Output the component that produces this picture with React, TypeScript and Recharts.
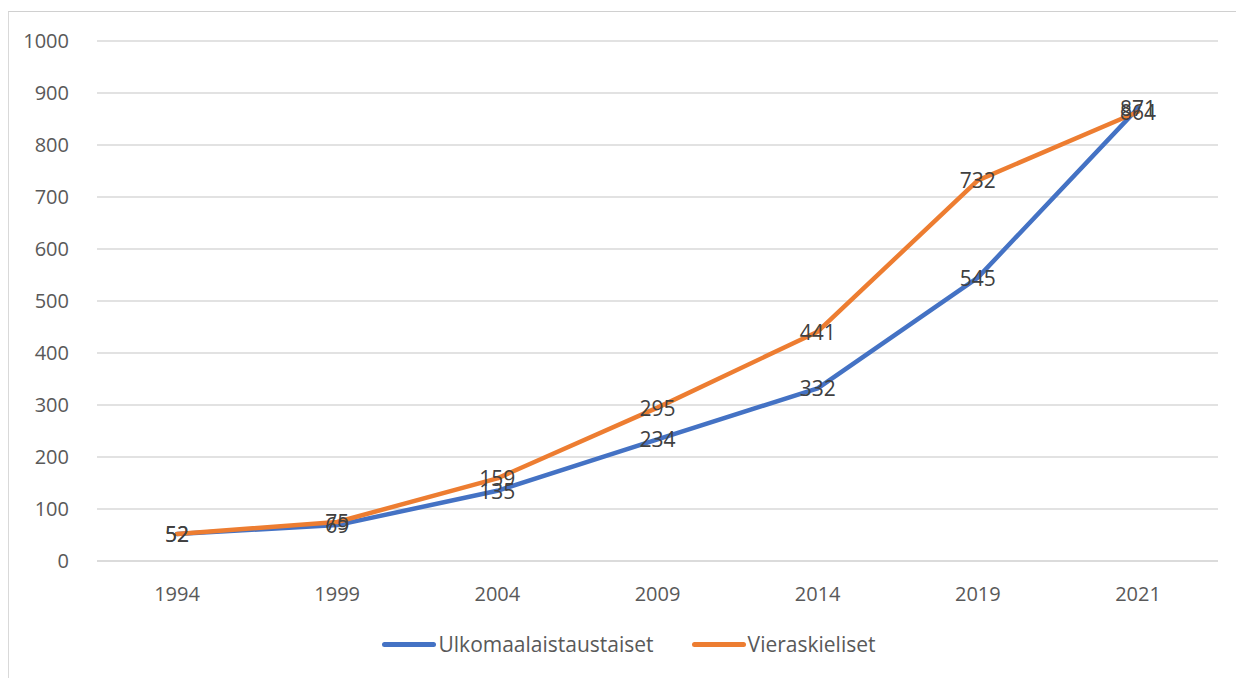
import { LineChart, Line, XAxis, YAxis, CartesianGrid, LabelList, Legend } from 'recharts';

const years = ['1994', '1999', '2004', '2009', '2014', '2019', '2021'];
const ulkomaalaistaustaiset = [52, 69, 135, 234, 332, 545, 871];
const vieraskieliset = [52, 75, 159, 295, 441, 732, 864];
const yTicks = [0, 100, 200, 300, 400, 500, 600, 700, 800, 900, 1000];

const series = [
  { key: 'ulko', name: 'Ulkomaalaistaustaiset', color: '#4472C4' },
  { key: 'viera', name: 'Vieraskieliset', color: '#ED7D31' }
];

const data = years.map((year, i) => ({
  year,
  ulko: ulkomaalaistaustaiset[i],
  viera: vieraskieliset[i]
}));

const FONT = '"Open Sans", sans-serif';

const PointLabel = (props: any) => {
  const { x, y, value } = props;
  return (
    <text
      x={x}
      y={y}
      textAnchor="middle"
      dominantBaseline="central"
      fill="#404040"
      fontSize={21}
      fontFamily={FONT}
    >
      {value}
    </text>
  );
};

const LegendContent = () => (
  <div style={{ display: 'flex', justifyContent: 'center', gap: 38, fontFamily: FONT, fontSize: 21, color: '#595959' }}>
    {series.map((s) => (
      <div key={s.key} style={{ display: 'flex', alignItems: 'center' }}>
        <div style={{ width: 54, height: 5, borderRadius: 3, backgroundColor: s.color, marginRight: 2 }} />
        <span>{s.name}</span>
      </div>
    ))}
  </div>
);

export default function App() {
  return (
    <div style={{ position: 'relative', width: 1236, height: 670 }}>
      <div
        style={{
          position: 'absolute',
          left: -1,
          top: 3,
          width: 1250,
          height: 680,
          borderTop: '1px solid #d0d0d0',
          borderLeft: '2px solid #d9d9d9',
          background: '#fff'
        }}
      >
        <LineChart
          width={1240}
          height={667}
          data={data}
          margin={{ top: 29, right: 31, bottom: 50, left: 0 }}
        >
          <CartesianGrid vertical={false} stroke="#d9d9d9" strokeWidth={1.5} />
          <XAxis
            dataKey="year"
            padding={{ left: 80, right: 80 }}
            axisLine={{ stroke: '#d9d9d9', strokeWidth: 1.5 }}
            tickLine={false}
            tickMargin={20}
            tick={{ fill: '#595959', fontSize: 20, fontFamily: FONT }}
            height={40}
          />
          <YAxis
            domain={[0, 1000]}
            ticks={yTicks}
            width={88}
            axisLine={false}
            tickLine={false}
            tickMargin={22}
            tick={{ fill: '#595959', fontSize: 20, fontFamily: FONT }}
          />
          <Legend content={<LegendContent />} wrapperStyle={{ top: 618, left: 0, width: 1240 }} />
          {series.map((s) => (
            <Line
              key={s.key}
              type="linear"
              dataKey={s.key}
              name={s.name}
              stroke={s.color}
              strokeWidth={4.5}
              strokeLinejoin="round"
              strokeLinecap="round"
              dot={false}
              activeDot={false}
              isAnimationActive={false}
            >
              <LabelList dataKey={s.key} content={<PointLabel />} />
            </Line>
          ))}
        </LineChart>
      </div>
    </div>
  );
}
